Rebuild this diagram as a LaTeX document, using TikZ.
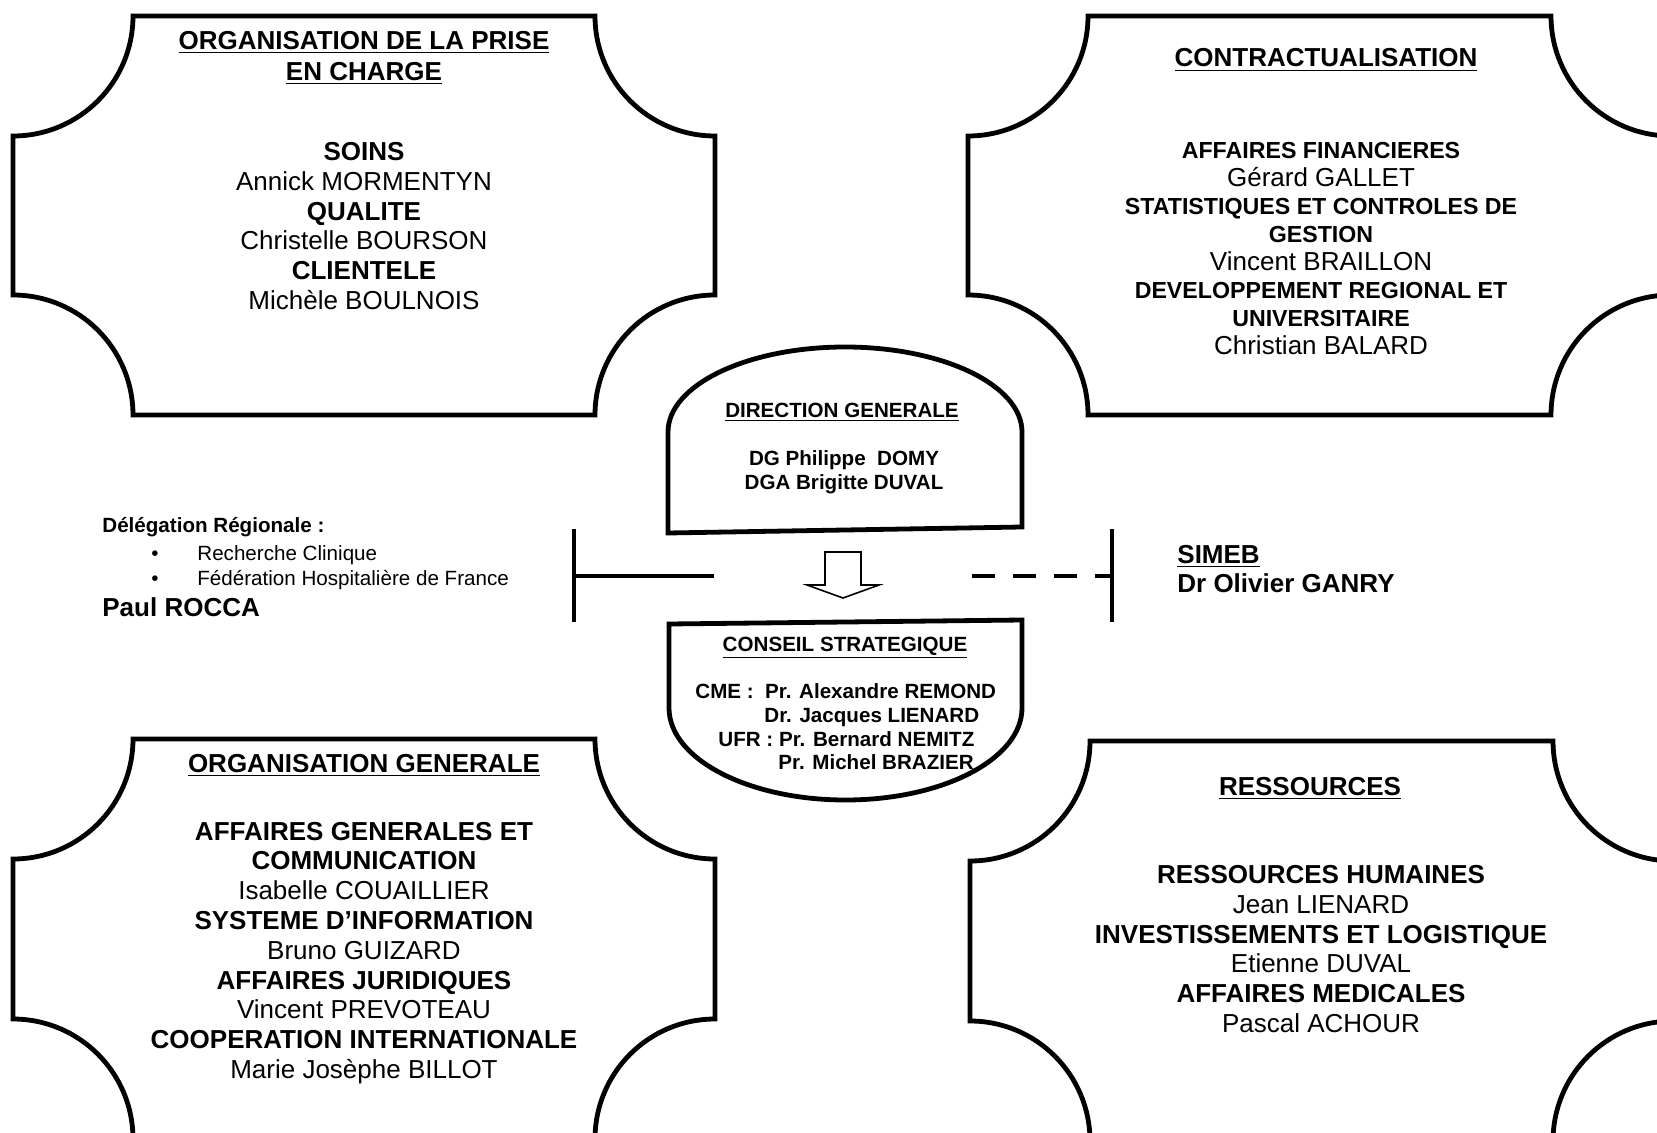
\documentclass[tikz,border=0pt]{standalone}
\usepackage{fontspec}
\setmainfont{Liberation Sans}

\newcommand{\grand}{\fontsize{13}{14.9}\selectfont}
\newcommand{\moyen}{\fontsize{11.6}{14}\selectfont}
\newcommand{\petit}{\fontsize{10.3}{11.5}\selectfont}

% cadre a coins rentrants : gauche, haut, droite, bas
\newcommand{\plaque}[4]{%
  \draw[cadre] (#1+120,#2) -- (#3-120,#2)
    arc[start angle=180,end angle=270,radius=120] -- (#3,#4+120)
    arc[start angle=90,end angle=180,radius=120] -- (#1+120,#4)
    arc[start angle=0,end angle=90,radius=120] -- (#1,#2-120)
    arc[start angle=270,end angle=360,radius=120] -- cycle;}

\tikzset{
  cadre/.style={line width=2.4pt, line join=miter},
  titre/.style={font=\grand\bfseries, align=center, inner sep=0pt},
  texte/.style={font=\grand, align=center, inner sep=0pt},
  serre/.style={font=\fontsize{13}{14}\selectfont, align=center, inner sep=0pt},
  petitgras/.style={font=\petit\bfseries, inner sep=0pt},
  normal/.style={font=\petit, inner sep=0pt},
  barre/.style={line width=2.2pt},
  fleche/.style={line width=0.8pt, line join=miter},
}

\begin{document}
\begin{tikzpicture}[x=0.5pt,y=0.5pt]
\useasboundingbox (0,0) rectangle (1657,-1133);

% les quatre poles
\plaque{13}{-16}{715}{-415}
\plaque{968}{-16}{1671}{-415}
\plaque{13}{-739}{715}{-1139}
\plaque{970}{-741}{1673}{-1141}

\node[titre] (priseTitre) at (364,-58) {\underline{ORGANISATION DE LA PRISE}\\[1pt]\underline{EN CHARGE}};
\node[texte] (priseCorps) at (364,-226) {\textbf{SOINS}\\Annick MORMENTYN\\\textbf{QUALITE}\\Christelle BOURSON\\\textbf{CLIENTELE}\\Michèle BOULNOIS};

\node[titre, anchor=base] (contratTitre) at (1326,-67) {\underline{CONTRACTUALISATION}};
\node[serre] (contratCorps) at (1321,-249) {{\moyen\bfseries AFFAIRES FINANCIERES}\\Gérard GALLET\\{\moyen\bfseries STATISTIQUES ET CONTROLES DE}\\{\moyen\bfseries GESTION}\\Vincent BRAILLON\\{\moyen\bfseries DEVELOPPEMENT REGIONAL ET}\\{\moyen\bfseries UNIVERSITAIRE}\\Christian BALARD};

\node[titre, anchor=base] (orgTitre) at (364,-772) {\underline{ORGANISATION GENERALE}};
\node[texte] (orgCorps) at (364,-953) {\textbf{AFFAIRES GENERALES ET}\\\textbf{COMMUNICATION}\\Isabelle COUAILLIER\\\textbf{SYSTEME D’INFORMATION}\\Bruno GUIZARD\\\textbf{AFFAIRES JURIDIQUES}\\Vincent PREVOTEAU\\\textbf{COOPERATION INTERNATIONALE}\\Marie Josèphe BILLOT};

\node[titre, anchor=base] (ressTitre) at (1310,-795) {\underline{RESSOURCES}};
\node[texte] (ressCorps) at (1321,-949) {\textbf{RESSOURCES HUMAINES}\\Jean LIENARD\\\textbf{INVESTISSEMENTS ET LOGISTIQUE}\\Etienne DUVAL\\\textbf{AFFAIRES MEDICALES}\\Pascal ACHOUR};

% direction generale
\draw[cadre] (668,-533) -- (668,-432)
  arc[start angle=180,end angle=0,x radius=177,y radius=85] -- (1022,-527) -- cycle;
\node[petitgras, anchor=base] (dgTitre) at (842,-417) {\underline{DIRECTION GENERALE}};
\node[petitgras, anchor=base] (dg) at (844,-466) {DG Philippe\ \ DOMY};
\node[petitgras, anchor=base] (dga) at (844,-489) {DGA Brigitte DUVAL};

\draw[fleche] (825,-552) -- (861,-552) -- (861,-585) -- (879,-585)
  -- (843,-598) -- (807,-585) -- (825,-585) -- cycle;

% conseil strategique
\draw[cadre] (669,-624) -- (1022,-620) -- (1022,-708)
  arc[start angle=0,end angle=-180,x radius=176.5,y radius=92] -- cycle;
\node[petitgras, anchor=base] (csTitre) at (845,-651) {\underline{CONSEIL STRATEGIQUE}};
\node[petitgras, anchor=base west] (cme) at (695,-698) {CME :\ \ Pr. Alexandre REMOND};
\node[petitgras, anchor=base west] (cmeBis) at (764,-722) {Dr. Jacques LIENARD};
\node[petitgras, anchor=base west] (ufr) at (718,-746) {UFR : Pr. Bernard NEMITZ};
\node[petitgras, anchor=base west] (ufrBis) at (778,-769) {Pr. Michel BRAZIER};

% delegation regionale
\node[petitgras, anchor=base west] (delegation) at (102,-532) {Délégation Régionale :};
\node[normal, anchor=base] (puceA) at (155,-560) {\textbullet};
\node[normal, anchor=base west] (recherche) at (197,-560) {Recherche Clinique};
\node[normal, anchor=base] (puceB) at (155,-585) {\textbullet};
\node[normal, anchor=base west] (federation) at (197,-585) {Fédération Hospitalière de France};
\node[font=\grand\bfseries, inner sep=0pt, anchor=base west] (rocca) at (102,-616) {Paul ROCCA};

\coordinate (gaucheHaut) at (574,-529);
\coordinate (gaucheBas) at (574,-622);
\coordinate (gaucheMil) at (574,-576);
\coordinate (gaucheFin) at (714,-576);
\draw[barre] (gaucheHaut) -- (gaucheBas);
\draw[barre] (gaucheMil) -- (gaucheFin);

% simeb
\node[font=\grand\bfseries, inner sep=0pt, anchor=base west] (simeb) at (1177,-563) {\underline{SIMEB}};
\node[font=\grand\bfseries, inner sep=0pt, anchor=base west] (ganry) at (1177,-592) {Dr Olivier GANRY};

\coordinate (droiteHaut) at (1112,-529);
\coordinate (droiteBas) at (1112,-622);
\coordinate (droiteMil) at (1112,-576);
\coordinate (droiteDebut) at (972,-576);
\draw[barre] (droiteHaut) -- (droiteBas);
\draw[barre, dash pattern=on 11.5pt off 9pt] (droiteDebut) -- (droiteMil);
\end{tikzpicture}
\end{document}
